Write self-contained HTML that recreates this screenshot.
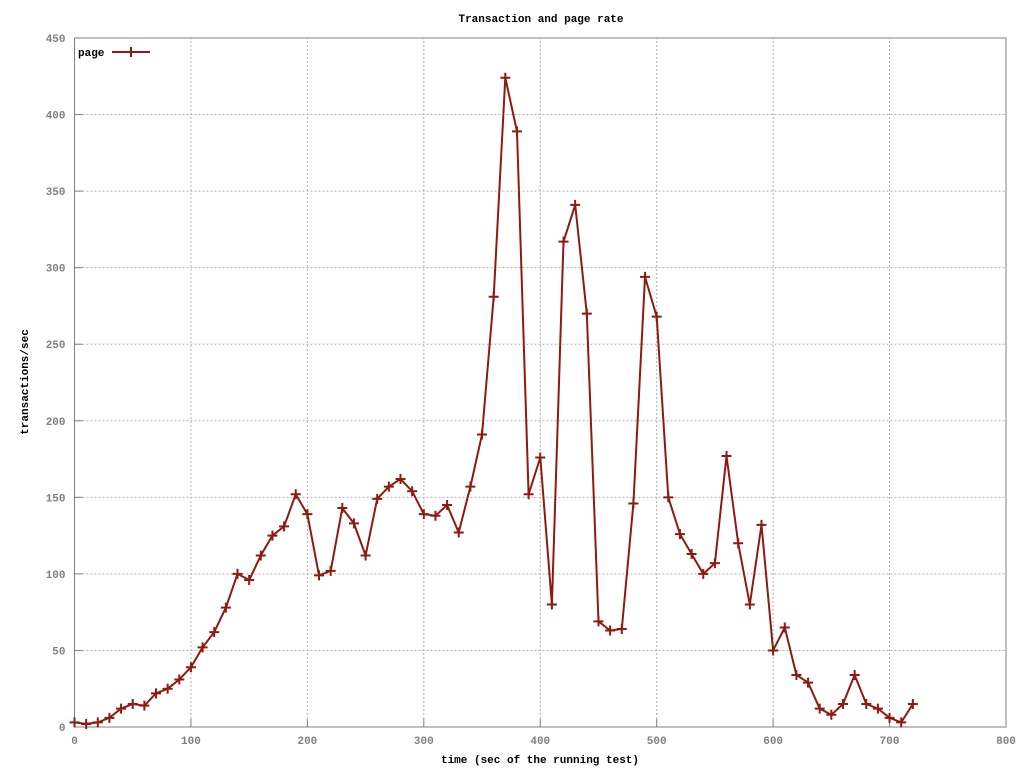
<!DOCTYPE html>
<html><head><meta charset="utf-8"><style>
html,body{margin:0;padding:0;background:#fff;}
svg text{font-family:"Liberation Mono","DejaVu Sans Mono",monospace;font-size:11px;font-weight:bold;fill:#000;}
svg text.tick{fill:#808080;}
</style></head><body>
<svg id="chart" width="1024" height="768" xmlns="http://www.w3.org/2000/svg">
<text x="541" y="22" text-anchor="middle">Transaction and page rate</text>
<text x="540" y="763" text-anchor="middle">time (sec of the running test)</text>
<text transform="translate(28,382) rotate(-90)" text-anchor="middle">transactions/sec</text>
<g id="grid"></g>
<g id="axes"></g>
<g id="series"></g>
<g>
<text x="78" y="56">page</text>
<line x1="112" y1="52" x2="150" y2="52" stroke="#8e1a10" stroke-width="2"/>
<path d="M126 52h10M131 47v10" stroke="#8e1a10" stroke-width="2"/>
</g>
</svg>
<script>
const xTicks=[0,100,200,300,400,500,600,700,800];
const yTicks=[0,50,100,150,200,250,300,350,400,450];
const times=[0,10,20,30,40,50,60,70,80,90,100,110,120,130,140,150,160,170,180,190,200,210,220,230,240,250,260,270,280,290,300,310,320,330,340,350,360,370,380,390,400,410,420,430,440,450,460,470,480,490,500,510,520,530,540,550,560,570,580,590,600,610,620,630,640,650,660,670,680,690,700,710,720];
const pageRate=[3,2,3,6,12,15,14,22,25,31,39,52,62,78,100,96,112,125,131,152,139,99,102,143,133,112,149,157,162,154,139,138,145,127,157,191,281,424,389,152,176,80,317,341,270,69,63,64,146,294,268,150,126,113,100,107,177,120,80,132,50,65,34,29,12,8,15,34,15,12,6,3,15];
const X0=74.5,X1=1006,Y0=727,Y1=38;
const sx=v=>X0+(v-0)/(800-0)*(X1-X0);
const sy=v=>Y0-(v-0)/(450-0)*(Y0-Y1);
const NS="http://www.w3.org/2000/svg";
const grid=document.getElementById('grid'),axes=document.getElementById('axes'),ser=document.getElementById('series');
function mk(tag,attrs,parent){const e=document.createElementNS(NS,tag);for(const k in attrs)e.setAttribute(k,attrs[k]);parent.appendChild(e);return e;}
const frame=mk('rect',{x:X0,y:Y1,width:X1-X0,height:Y0-Y1,fill:'none',stroke:'#808080','stroke-width':1},axes);


xTicks.forEach(t=>{const x=sx(t);
 if(t>0&&t<800){const g=mk('line',{x1:x,y1:Y0,x2:x,y2:Y1,stroke:'#b0b0b0','stroke-dasharray':'2,2'},grid);
 
 
 const tk=mk('line',{x1:x,y1:Y0,x2:x,y2:Y0-8,stroke:'#808080'},axes);
 
 }
 const tx=mk('text',{x:x,y:Y0+17,'text-anchor':'middle','class':'tick'},axes);tx.textContent=t;
 
 });
yTicks.forEach(t=>{const y=sy(t);
 if(t>0&&t<450){const g=mk('line',{x1:X0,y1:y,x2:X1,y2:y,stroke:'#b0b0b0','stroke-dasharray':'2,2'},grid);
 
 
 const tk=mk('line',{x1:X0,y1:y,x2:X0+8,y2:y,stroke:'#808080'},axes);
 
 }
 const tx=mk('text',{x:X0-9,y:y+4,'text-anchor':'end','class':'tick'},axes);tx.textContent=t;
 
 });
const pts=times.map((t,i)=>sx(t).toFixed(1)+','+sy(pageRate[i]).toFixed(1)).join(' ');
const pl=mk('polyline',{points:pts,fill:'none',stroke:'#8e1a10','stroke-width':2},ser);


times.forEach((t,i)=>{const x=sx(t),y=sy(pageRate[i]);
 const m=mk('path',{d:`M${x-5} ${y}h10M${x} ${y-5}v10`,stroke:'#8e1a10','stroke-width':2},ser);
 
 });
</script>
</body></html>
